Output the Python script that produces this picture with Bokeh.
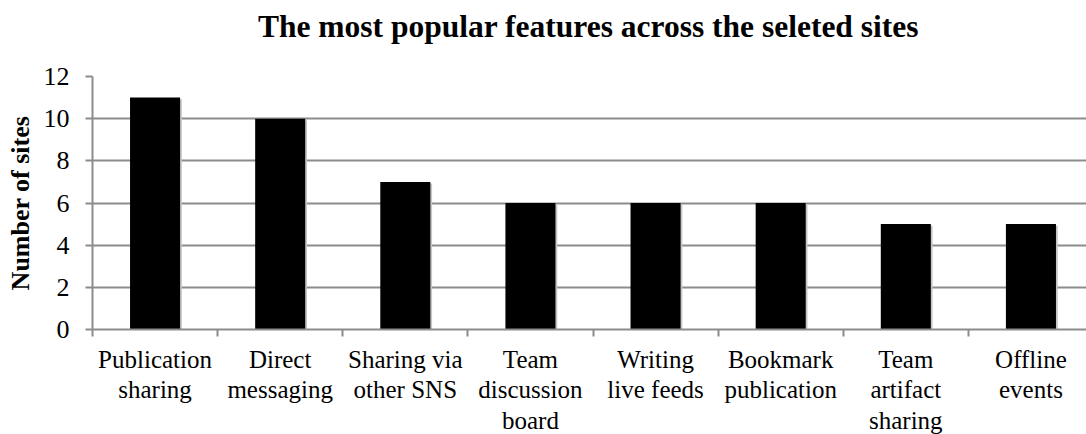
from bokeh.plotting import figure
from bokeh.models import FixedTicker, Range1d, ColumnDataSource
from bokeh.layouts import column
from bokeh.core.properties import value
from bokeh.transform import dodge
from bokeh.embed import file_html
from bokeh.resources import INLINE

categories = ["Publication\nsharing", "Direct\nmessaging", "Sharing via\nother SNS",
              "Team\ndiscussion\nboard", "Writing\nlive feeds", "Bookmark\npublication",
              "Team\nartifact\nsharing", "Offline\nevents"]
values = [11, 10, 7, 6, 6, 6, 5, 5]
y_ticks = [0, 2, 4, 6, 8, 10, 12]
title_text = "The most popular features across the seleted sites"
y_label = "Number of sites"

centers = [i + 0.5 for i in range(len(categories))]
bounds = list(range(len(categories) + 1))

FONT = "Liberation Serif"
GRID = "#8c8c8c"
W = 1086

# ---- title strip ----
tt = figure(width=W, height=48, x_range=Range1d(0, 1), y_range=Range1d(0, 1),
            output_backend="svg", toolbar_location=None,
            x_axis_location=None, y_axis_location=None,
            min_border_left=0, min_border_right=0, min_border_top=0, min_border_bottom=0)
tt.outline_line_color = None
tt.grid.visible = False
tt.text(x=[0.5], y=[1], text=[title_text], x_offset=-1, y_offset=8,
        text_align="center", text_baseline="top",
        text_font=value(FONT), text_font_style="bold", text_font_size="31.5px",
        text_color="black")

# ---- main chart ----
p = figure(width=W, height=297,
           x_range=Range1d(0, 7.944), y_range=Range1d(0, 12),
           output_backend="svg", toolbar_location=None,
           min_border_left=92, min_border_right=0,
           min_border_top=28, min_border_bottom=16)
p.outline_line_color = None
p.background_fill_color = "white"
p.border_fill_color = "white"

src = ColumnDataSource(dict(x=centers, top=values))
p.vbar(x=dodge("x", 0.014, range=p.x_range), top=dodge("top", -0.08, range=p.y_range),
       width=0.4, bottom=0, source=src, fill_color="#c4c4c4", line_color=None)
p.vbar(x="x", top="top", width=0.4, bottom=0, source=src,
       fill_color="black", line_color=None)

# y axis
p.yaxis.ticker = FixedTicker(ticks=y_ticks)
p.yaxis.axis_label = y_label
p.yaxis.axis_label_text_font = FONT
p.yaxis.axis_label_text_font_style = "bold"
p.yaxis.axis_label_text_font_size = "26px"
p.yaxis.axis_label_text_color = "black"
p.yaxis.axis_label_standoff = 6
p.yaxis.major_label_text_font = FONT
p.yaxis.major_label_text_font_size = "26px"
p.yaxis.major_label_text_line_height = 1.0
p.yaxis.major_label_text_color = "black"
p.yaxis.major_label_standoff = 16
p.yaxis.major_tick_out = 7
p.yaxis.major_tick_in = 0
p.yaxis.major_tick_line_color = GRID
p.yaxis.major_tick_line_width = 2
p.yaxis.minor_tick_line_color = None
p.yaxis.axis_line_color = GRID
p.yaxis.axis_line_width = 2

# x axis: ticks at category boundaries only
p.xaxis.ticker = FixedTicker(ticks=centers, minor_ticks=bounds)
p.xaxis.major_label_overrides = {c: "" for c in centers}
p.xaxis.major_label_text_font_size = "1px"
p.xaxis.major_label_standoff = 0
p.xaxis.major_tick_line_color = None
p.xaxis.major_tick_out = 7
p.xaxis.minor_tick_out = 7
p.xaxis.minor_tick_in = 0
p.xaxis.minor_tick_line_color = GRID
p.xaxis.minor_tick_line_width = 2
p.xaxis.axis_line_color = GRID
p.xaxis.axis_line_width = 2

p.xgrid.grid_line_color = None
p.ygrid.grid_line_color = GRID
p.ygrid.grid_line_width = 2

# ---- category labels strip, sharing the x scale ----
lab = figure(width=W, height=89, x_range=p.x_range, y_range=Range1d(0, 1),
             output_backend="svg", toolbar_location=None,
             x_axis_location=None, y_axis_location=None,
             min_border_left=92, min_border_right=0,
             min_border_top=0, min_border_bottom=0)
lab.outline_line_color = None
lab.grid.visible = False
lab.text(x=centers, y=[1] * len(centers), text=categories, y_offset=0,
         text_align="center", text_baseline="top",
         text_font=value(FONT), text_font_size="25px", text_color="black",
         text_line_height=1.13)

layout = column(tt, p, lab, spacing=0)
open("out.html", "w").write(file_html(layout, INLINE))
